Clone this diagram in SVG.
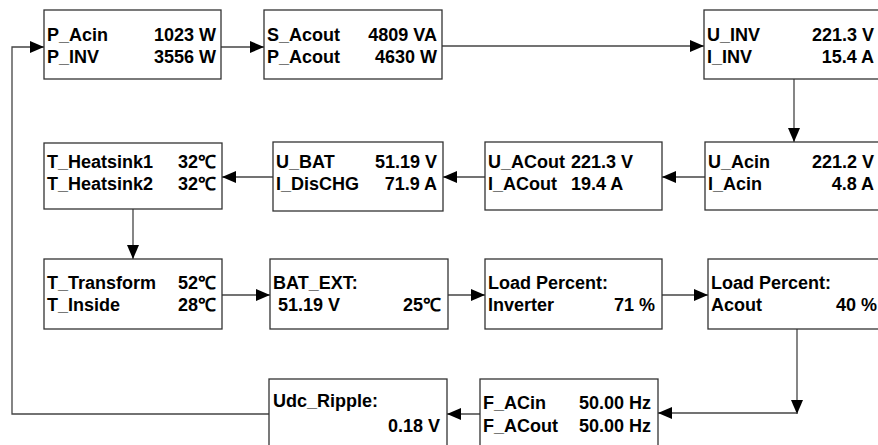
<svg xmlns="http://www.w3.org/2000/svg" width="878" height="445" viewBox="0 0 878 445">
<defs>
<style>
.box{fill:#fff;stroke:#333;stroke-width:1.3}
.t{font-family:"Liberation Sans",Arial,sans-serif;font-weight:bold;font-size:18px;fill:#000}
.r{text-anchor:end}
.c{fill:none;stroke:#444;stroke-width:1.3}
</style>
<marker id="ah" markerUnits="userSpaceOnUse" markerWidth="15" markerHeight="12" refX="14" refY="6" orient="auto">
<path d="M0,0 L14,6 L0,12 z" fill="#000"/>
</marker>
</defs>
<rect width="878" height="445" fill="#fff"/>
<g id="connectors">
<line class="c" x1="221" y1="47" x2="264" y2="47" marker-end="url(#ah)"/>
<line class="c" x1="442" y1="46" x2="704" y2="46" marker-end="url(#ah)"/>
<line class="c" x1="794" y1="79" x2="794" y2="142" marker-end="url(#ah)"/>
<line class="c" x1="705" y1="177" x2="662" y2="177" marker-end="url(#ah)"/>
<line class="c" x1="485" y1="177" x2="443" y2="177" marker-end="url(#ah)"/>
<line class="c" x1="273" y1="177" x2="222" y2="177" marker-end="url(#ah)"/>
<line class="c" x1="133" y1="209" x2="133" y2="259" marker-end="url(#ah)"/>
<line class="c" x1="222" y1="295" x2="270" y2="295" marker-end="url(#ah)"/>
<line class="c" x1="448" y1="295" x2="485" y2="295" marker-end="url(#ah)"/>
<line class="c" x1="662" y1="295" x2="708" y2="295" marker-end="url(#ah)"/>
<line class="c" x1="797" y1="329" x2="797" y2="414" marker-end="url(#ah)"/>
<line class="c" x1="797" y1="413" x2="658" y2="413" marker-end="url(#ah)"/>
<line class="c" x1="480" y1="414" x2="447" y2="414" marker-end="url(#ah)"/>
<polyline class="c" points="269,414 12,414 12,47 44,47" marker-end="url(#ah)"/>
</g>
<g id="n1"><rect class="box" x="44" y="10" width="177" height="69"/>
<text class="t" x="47" y="41">P_Acin</text><text class="t r" x="216" y="41">1023 W</text>
<text class="t" x="47" y="63">P_INV</text><text class="t r" x="216" y="63">3556 W</text></g>
<g id="n2"><rect class="box" x="264" y="10" width="178" height="69"/>
<text class="t" x="267" y="41">S_Acout</text><text class="t r" x="437" y="41">4809 VA</text>
<text class="t" x="267" y="63">P_Acout</text><text class="t r" x="437" y="63">4630 W</text></g>
<g id="n3"><rect class="box" x="704" y="10" width="176" height="69"/>
<text class="t" x="707" y="41">U_INV</text><text class="t r" x="874" y="41">221.3 V</text>
<text class="t" x="707" y="63">I_INV</text><text class="t r" x="874" y="63">15.4 A</text></g>
<g id="n4"><rect class="box" x="705" y="142" width="175" height="68"/>
<text class="t" x="708" y="168">U_Acin</text><text class="t r" x="874" y="168">221.2 V</text>
<text class="t" x="708" y="190">I_Acin</text><text class="t r" x="874" y="190">4.8 A</text></g>
<g id="n5"><rect class="box" x="485" y="142" width="177" height="68"/>
<text class="t" x="488" y="168">U_ACout</text><text class="t" x="571" y="168">221.3 V</text>
<text class="t" x="488" y="190">I_ACout</text><text class="t" x="571" y="190">19.4 A</text></g>
<g id="n6"><rect class="box" x="273" y="142" width="170" height="69"/>
<text class="t" x="276" y="168">U_BAT</text><text class="t r" x="437" y="168">51.19 V</text>
<text class="t" x="276" y="190">I_DisCHG</text><text class="t r" x="437" y="190">71.9 A</text></g>
<g id="n7"><rect class="box" x="44" y="143" width="178" height="66"/>
<text class="t" x="47" y="168">T_Heatsink1</text><text class="t r" x="216" y="168">32℃</text>
<text class="t" x="47" y="190">T_Heatsink2</text><text class="t r" x="216" y="190">32℃</text></g>
<g id="n8"><rect class="box" x="44" y="259" width="178" height="70"/>
<text class="t" x="47" y="289">T_Transform</text><text class="t r" x="216" y="289">52℃</text>
<text class="t" x="47" y="311">T_Inside</text><text class="t r" x="216" y="311">28℃</text></g>
<g id="n9"><rect class="box" x="270" y="259" width="178" height="70"/>
<text class="t" x="273" y="289">BAT_EXT:</text>
<text class="t" x="278" y="311">51.19 V</text><text class="t r" x="441" y="311">25℃</text></g>
<g id="n10"><rect class="box" x="485" y="259" width="177" height="70"/>
<text class="t" x="488" y="289">Load Percent:</text>
<text class="t" x="488" y="311">Inverter</text><text class="t r" x="655" y="311">71 %</text></g>
<g id="n11"><rect class="box" x="708" y="259" width="175" height="70"/>
<text class="t" x="711" y="289">Load Percent:</text>
<text class="t" x="711" y="311">Acout</text><text class="t r" x="877" y="311">40 %</text></g>
<g id="n12"><rect class="box" x="480" y="379" width="178" height="70"/>
<text class="t" x="483" y="409">F_ACin</text><text class="t r" x="651" y="409">50.00 Hz</text>
<text class="t" x="483" y="432">F_ACout</text><text class="t r" x="651" y="432">50.00 Hz</text></g>
<g id="n13"><rect class="box" x="269" y="379" width="178" height="70"/>
<text class="t" x="273" y="407">Udc_Ripple:</text>
<text class="t r" x="440" y="432">0.18 V</text></g>
</svg>
